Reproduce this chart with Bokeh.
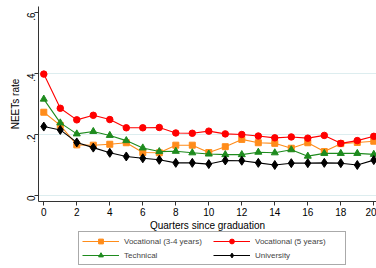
import math
from bokeh.plotting import figure
from bokeh.models import Range1d, FixedTicker, Legend, LegendItem
from bokeh.embed import file_html
from bokeh.resources import INLINE

quarters = list(range(21))
voc34 = [0.273, 0.230, 0.166, 0.165, 0.168, 0.173, 0.141, 0.140, 0.165, 0.165, 0.141,
         0.160, 0.184, 0.173, 0.171, 0.155, 0.173, 0.144, 0.170, 0.174, 0.178]
voc5 = [0.398, 0.286, 0.248, 0.263, 0.249, 0.222, 0.222, 0.223, 0.205, 0.204, 0.211,
        0.202, 0.200, 0.195, 0.189, 0.192, 0.188, 0.197, 0.171, 0.180, 0.194]
tech = [0.316, 0.238, 0.202, 0.210, 0.197, 0.180, 0.156, 0.144, 0.145, 0.140, 0.136,
        0.134, 0.134, 0.142, 0.140, 0.150, 0.129, 0.138, 0.138, 0.138, 0.135]
univ = [0.226, 0.215, 0.174, 0.157, 0.140, 0.128, 0.122, 0.117, 0.107, 0.107, 0.103,
        0.115, 0.114, 0.107, 0.100, 0.106, 0.106, 0.107, 0.106, 0.100, 0.116]

names = ["Vocational (3-4 years)", "Vocational (5 years)", "Technical", "University"]
x_ticks = list(range(0, 21, 2))
y_ticks = [0, 0.2, 0.4, 0.6]
y_tick_labels = ["0", ".2", ".4", ".6"]

FONT = "Liberation Sans"

X0, X1 = -2.624, 20.164      # visible x range (frame = whole canvas)
Y0, Y1 = -0.2393, 0.6393     # visible y range
XAX_AT = -0.0187             # where the x axis crosses
YAX_AT = -0.339              # where the y axis crosses
YAX_TOP = 0.6197

p = figure(width=376, height=268, output_backend="svg", toolbar_location=None,
           x_range=Range1d(X0, X1), y_range=Range1d(Y0, Y1),
           min_border_left=0, min_border_right=0, min_border_top=0, min_border_bottom=0)
p.outline_line_color = None
p.background_fill_color = "white"

series = [
    (voc34, "#FF8C1A", "square", 6, 4.5),
    (voc5, "#FF0000", "circle", 6.5, 4.5),
    (tech, "#1E8B1E", "triangle", 7, 5),
    (univ, "#000000", "diamond", 9, 6.5),
]
items = []
for (vals, col, mk, sz, lsz), name in zip(series, names):
    ln = p.line(quarters, vals, line_color=col, line_width=1.1)
    p.scatter(quarters, vals, marker=mk, size=sz, fill_color=col, line_color=col)
    # smaller marker used only for the legend sample (not drawn on the chart)
    lm = p.scatter(quarters, vals, marker=mk, size=lsz, fill_color=col, line_color=col,
                   visible=False)
    items.append(LegendItem(label=name, renderers=[ln, lm]))

p.xaxis.ticker = FixedTicker(ticks=x_ticks)
p.yaxis.ticker = FixedTicker(ticks=y_ticks)
p.yaxis.major_label_overrides = {t: l for t, l in zip(y_ticks, y_tick_labels)}
p.yaxis.major_label_orientation = math.pi / 2
p.xaxis.fixed_location = XAX_AT
p.yaxis.fixed_location = YAX_AT
p.xaxis.bounds = (YAX_AT, X1)
p.yaxis.bounds = (XAX_AT, YAX_TOP)

p.xgrid.grid_line_color = None
p.ygrid.ticker = FixedTicker(ticks=y_ticks[:3])
p.ygrid.grid_line_color = "#DDEDEF"
p.ygrid.grid_line_width = 1
p.ygrid.cross_bounds = (YAX_AT, X1)

for ax in (p.xaxis[0], p.yaxis[0]):
    ax.axis_line_color = "#333333"
    ax.major_tick_line_color = "#333333"
    ax.minor_tick_line_color = None
    ax.major_tick_in = 0
    ax.major_tick_out = 4
    ax.major_label_text_font = FONT
    ax.major_label_text_font_size = "10px"
    ax.major_label_text_color = "black"
    ax.axis_label_text_font = FONT
    ax.axis_label_text_font_size = "10px"
    ax.axis_label_text_font_style = "normal"
    ax.axis_label_text_color = "black"
    ax.major_label_standoff = 3
    ax.axis_label_standoff = 0

p.xaxis.axis_label = "Quarters since graduation"
p.yaxis.axis_label = "NEETs rate"

legend = Legend(items=items, orientation="horizontal", nrows=2, location=(78, 3),
                label_text_font=FONT, label_text_font_size="8px",
                glyph_width=37, glyph_height=12, label_standoff=5,
                label_height=12, label_width=87, spacing=2, padding=3, margin=0,
                border_line_color="#555555", border_line_width=1,
                background_fill_alpha=1, inactive_fill_alpha=0)
p.add_layout(legend, "center")

open("out.html", "w").write(file_html(p, INLINE))
